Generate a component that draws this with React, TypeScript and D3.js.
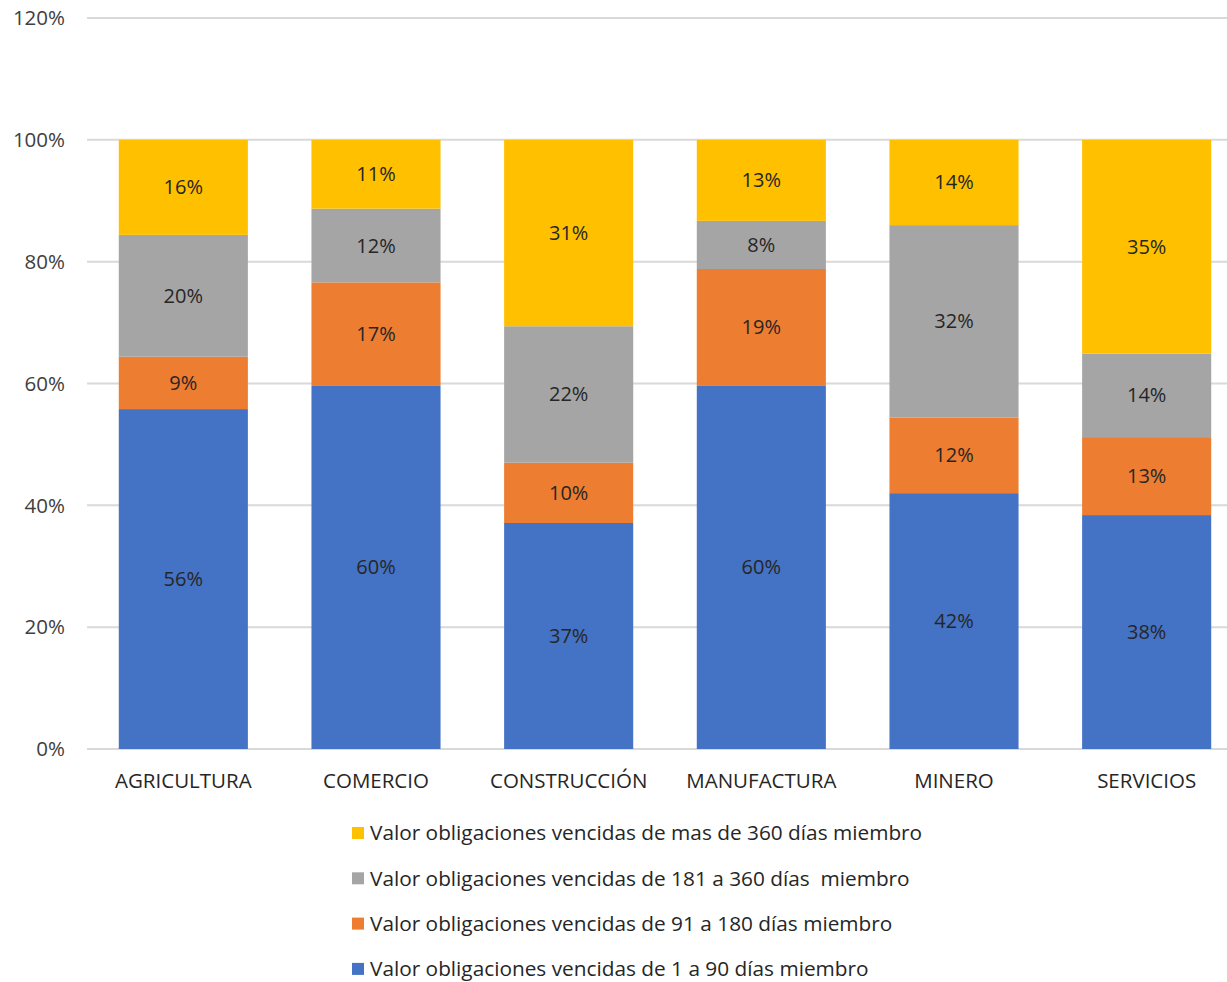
import React from "react";
import * as d3 from "d3";

const categories = ["AGRICULTURA", "COMERCIO", "CONSTRUCCIÓN", "MANUFACTURA", "MINERO", "SERVICIOS"];
const seriesNames = [
  "Valor obligaciones vencidas de 1 a 90 días miembro",
  "Valor obligaciones vencidas de 91 a 180 días miembro",
  "Valor obligaciones vencidas de 181 a 360 días  miembro",
  "Valor obligaciones vencidas de mas de 360 días miembro",
];
const s1to90 = [55.8, 59.6, 37.1, 59.6, 42.0, 38.4];
const s91to180 = [8.6, 17.0, 9.9, 19.2, 12.4, 12.8];
const s181to360 = [20.0, 12.1, 22.4, 7.9, 31.6, 13.7];
const sOver360 = [15.6, 11.3, 30.6, 13.3, 14.0, 35.1];
const yTicks = [0, 20, 40, 60, 80, 100, 120];
const colors = ["#4472C4", "#ED7D31", "#A5A5A5", "#FFC000"];

const W = 1227, H = 982;
const FONT = "'Open Sans', 'Noto Sans', sans-serif";

export default function App() {
  const seriesVals = [s1to90, s91to180, s181to360, sOver360];
  const rows = categories.map((c, i) => ({ cat: c, a: s1to90[i], b: s91to180[i], c: s181to360[i], d: sOver360[i] }));
  const stack = d3.stack<any>().keys(["a", "b", "c", "d"])(rows);

  const x = d3.scaleBand().domain(categories).range([87, 1243]).paddingInner(0.33).paddingOuter(0.165);
  const y = d3.scaleLinear().domain([0, 120]).range([749, 18]);

  const legendOrder = [3, 2, 1, 0];
  return (
    <svg width={W} height={H} style={{ position: "absolute", left: 0, top: 0, background: "#fff" }} fontFamily={FONT}>
      {yTicks.map((t) => (
        <g key={t}>
          <line x1={87} x2={1227} y1={y(t)} y2={y(t)} stroke="#d9d9d9" strokeWidth={2} />
          <text x={65} y={y(t)} dy="0.35em" textAnchor="end" fontSize={20.5} fill="#404040">{t}%</text>
        </g>
      ))}
      {stack.map((s, si) => (
        <g key={si}>
          {s.map((d, i) => {
            const y0 = y(d[0]), y1 = y(d[1]);
            const xb = x(categories[i])!;
            return (
              <g key={i}>
                <rect x={xb} y={y1} width={x.bandwidth()} height={y0 - y1} fill={colors[si]} />
                <text x={xb + x.bandwidth() / 2} y={(y0 + y1) / 2} dy="0.35em" textAnchor="middle" fontSize={20} fill="#262626">
                  {Math.round(seriesVals[si][i])}%
                </text>
              </g>
            );
          })}
        </g>
      ))}
      {categories.map((c) => (
        <text key={c} x={x(c)! + x.bandwidth() / 2} y={781} dy="0.35em" textAnchor="middle" fontSize={20.5} fill="#262626">{c}</text>
      ))}
      {legendOrder.map((si, k) => (
        <g key={si} transform={`translate(352, ${833 + k * 45.3})`}>
          <rect x={0} y={-6} width={12} height={12} fill={colors[si]} />
          <text x={18} y={0} dy="0.35em" fontSize={20.8} fill="#262626" style={{ whiteSpace: "pre" }}>{seriesNames[si]}</text>
        </g>
      ))}
    </svg>
  );
}
